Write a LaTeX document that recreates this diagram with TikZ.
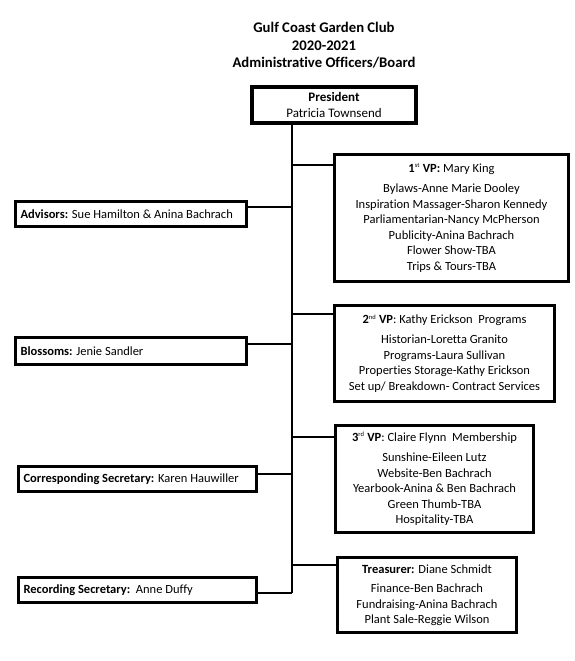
\documentclass[tikz,border=0pt]{standalone}
\usepackage{fontspec}
\setmainfont[Ligatures=NoCommon]{Carlito}
\newcommand{\ordsup}[1]{\textsuperscript{\mdseries\fontsize{6.5}{6.5}\selectfont #1}}
\begin{document}
\begin{tikzpicture}[x=1pt,y=-1pt,
  bodyfont/.style={font=\fontsize{12.5}{15.5}\selectfont},
  rbox/.style={draw, line width=2.8pt, align=center, inner sep=0pt, bodyfont},
  lbox/.style={draw, line width=2.8pt, align=flush left, inner xsep=5pt, inner ysep=0pt, bodyfont},
  link/.style={line width=2.8pt}]
\useasboundingbox (0,0) rectangle (575,661);
% title
\node[font=\fontsize{14.7}{17.5}\selectfont\bfseries, align=center] (title) at (324,45.5)
  {Gulf Coast Garden Club\\2020-2021\\Administrative Officers/Board};
% president
\node[draw, line width=3.6pt, align=center, inner sep=0pt, minimum width=164pt, minimum height=36pt, font=\fontsize{13}{15.5}\selectfont] (pres) at (334,105)
  {\textbf{President}\\Patricia Townsend};
% right boxes
\node[rbox, minimum width=234pt, minimum height=127pt] (v1) at (451.5,218)
  {\textbf{1\ordsup{st} VP:} Mary King\\[5pt]
   Bylaws-Anne Marie Dooley\\Inspiration Massager-Sharon Kennedy\\Parliamentarian-Nancy McPherson\\
   Publicity-Anina Bachrach\\Flower Show-TBA\\Trips \& Tours-TBA};
\node[rbox, minimum width=220pt, minimum height=96pt] (v2) at (444.5,353.5)
  {\textbf{2\ordsup{nd} VP}: Kathy Erickson\ \ Programs\\[5pt]
   Historian-Loretta Granito\\Programs-Laura Sullivan\\Properties Storage-Kathy Erickson\\
   Set up/ Breakdown- Contract Services};
\node[rbox, minimum width=198pt, minimum height=107pt] (v3) at (434.5,479)
  {\textbf{3\ordsup{rd} VP}: Claire Flynn\ \ Membership\\[5pt]
   Sunshine-Eileen Lutz\\Website-Ben Bachrach\\Yearbook-Anina \& Ben Bachrach\\
   Green Thumb-TBA\\Hospitality-TBA};
\node[rbox, minimum width=179pt, minimum height=75pt] (tr) at (427,595)
  {\textbf{Treasurer:} Diane Schmidt\\[4pt]
   Finance-Ben Bachrach\\Fundraising-Anina Bachrach\\Plant Sale-Reggie Wilson};
% left boxes
\node[lbox, text width=221pt, minimum height=25pt] (adv) at (131,214)
  {\textbf{Advisors:} Sue Hamilton \& Anina Bachrach};
\node[lbox, text width=221pt, minimum height=27pt] (blo) at (131,351)
  {\textbf{Blossoms:} Jenie Sandler};
\node[lbox, text width=228pt, minimum height=25pt] (cor) at (137.5,479)
  {\textbf{Corresponding Secretary:} Karen Hauwiller};
\node[lbox, text width=228pt, minimum height=25pt] (rec) at (137.5,590)
  {\textbf{Recording Secretary:}\ \ Anne Duffy};
% junction coordinates
\coordinate (jv1) at (v1.west |- 0,165);
\coordinate (jv2) at (v2.west |- 0,314);
\coordinate (jv3) at (v3.west |- 0,437);
\coordinate (jtr) at (tr.west |- 0,565);
\coordinate (jadv) at (adv.east |- 0,207);
\coordinate (jblo) at (blo.east |- 0,344);
\coordinate (jcor) at (cor.east |- 0,474);
\coordinate (jrec) at (rec.east |- 0,593);
\coordinate (bot) at (292,593);
% trunk
\draw[link] (pres.south -| bot) -- (bot);
\foreach \j in {jv1,jv2,jv3,jtr,jadv,jblo,jcor}
  \draw[link] (bot |- \j) -- (\j);
\draw[link] (bot) -- (jrec);
\end{tikzpicture}
\end{document}
